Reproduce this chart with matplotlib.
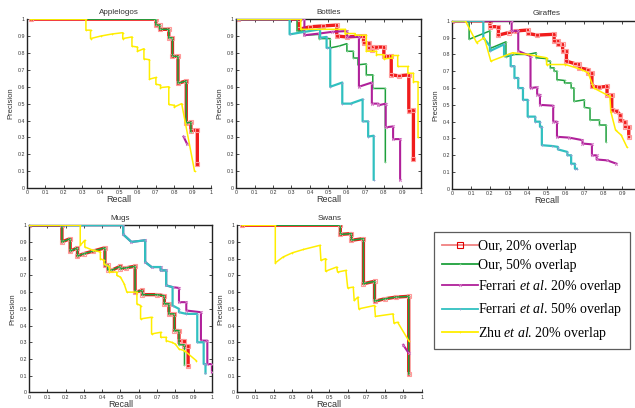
import matplotlib
matplotlib.use('Agg')
from matplotlib import pyplot as plt

plt.rcParams['font.family'] = ['Liberation Sans', 'DejaVu Sans']
plt.rcParams['mathtext.fontset'] = 'custom'
plt.rcParams['mathtext.rm'] = 'Liberation Serif'
plt.rcParams['mathtext.it'] = 'Liberation Serif:italic'

# (recall, precision) vertices
apple_our20 = [(0.02, 1), (0.70, 1), (0.70, 0.965), (0.72, 0.965), (0.72, 0.94), (0.77, 0.94),
               (0.77, 0.89), (0.79, 0.89), (0.79, 0.78), (0.82, 0.78), (0.82, 0.62), (0.865, 0.635),
               (0.865, 0.385), (0.89, 0.39), (0.89, 0.34), (0.925, 0.345), (0.925, 0.14)]
apple_our50 = [(0.02, 1), (0.70, 1), (0.70, 0.965), (0.72, 0.965), (0.72, 0.94), (0.77, 0.94),
               (0.77, 0.89), (0.79, 0.89), (0.79, 0.78), (0.82, 0.78), (0.82, 0.62), (0.865, 0.635),
               (0.865, 0.385), (0.89, 0.39), (0.89, 0.335)]
apple_fer20 = [(0.85, 0.305), (0.87, 0.26)]
apple_fer50 = []
apple_zhu20 = [(0.02, 1), (0.32, 1), (0.32, 0.935), (0.345, 0.935), (0.345, 0.885), (0.40, 0.9),
               (0.46, 0.912), (0.52, 0.92), (0.52, 0.885), (0.57, 0.895), (0.57, 0.84), (0.60, 0.835),
               (0.60, 0.81), (0.635, 0.825), (0.635, 0.765), (0.665, 0.76), (0.665, 0.645), (0.70, 0.655),
               (0.70, 0.615), (0.725, 0.61), (0.725, 0.595), (0.77, 0.6), (0.77, 0.495), (0.80, 0.49),
               (0.80, 0.48), (0.84, 0.5), (0.91, 0.1)]

bottle_our20 = [(0.01, 1), (0.34, 1), (0.34, 0.94), (0.40, 0.955), (0.47, 0.96), (0.545, 0.965),
                (0.545, 0.9), (0.60, 0.895), (0.69, 0.9), (0.69, 0.86), (0.72, 0.86), (0.72, 0.83),
                (0.735, 0.835), (0.735, 0.82), (0.76, 0.835), (0.80, 0.835), (0.80, 0.78), (0.84, 0.78),
                (0.84, 0.67), (0.88, 0.665), (0.935, 0.67), (0.935, 0.455), (0.96, 0.46), (0.96, 0.17)]
bottle_our50 = [(0.01, 1), (0.33, 1), (0.33, 0.93), (0.37, 0.93), (0.37, 0.905), (0.45, 0.91),
                (0.45, 0.885), (0.51, 0.885), (0.51, 0.83), (0.555, 0.84), (0.60, 0.855), (0.60, 0.81),
                (0.635, 0.81), (0.635, 0.77), (0.66, 0.77), (0.66, 0.73), (0.705, 0.735), (0.705, 0.67),
                (0.74, 0.67), (0.74, 0.59), (0.808, 0.59), (0.808, 0.155)]
bottle_fer20 = [(0.01, 1), (0.37, 1), (0.37, 0.905), (0.45, 0.915), (0.52, 0.925), (0.60, 0.93),
                (0.60, 0.895), (0.665, 0.895), (0.665, 0.60), (0.735, 0.625), (0.735, 0.50), (0.77, 0.5),
                (0.77, 0.49), (0.81, 0.5), (0.81, 0.36), (0.85, 0.365), (0.85, 0.29), (0.888, 0.29),
                (0.888, 0.05)]
bottle_fer50 = [(0.01, 1), (0.29, 1), (0.29, 0.91), (0.37, 0.925), (0.455, 0.94), (0.455, 0.89),
                (0.49, 0.895), (0.49, 0.83), (0.51, 0.83), (0.51, 0.6), (0.575, 0.625), (0.575, 0.5),
                (0.62, 0.5), (0.685, 0.525), (0.685, 0.395), (0.715, 0.395), (0.715, 0.305),
                (0.745, 0.31), (0.745, 0.05)]
bottle_zhu20 = [(0.01, 1), (0.35, 1), (0.35, 0.94), (0.59, 0.94), (0.59, 0.915), (0.645, 0.915),
                (0.645, 0.905), (0.705, 0.905), (0.705, 0.81), (0.76, 0.81), (0.76, 0.79), (0.80, 0.79),
                (0.80, 0.765), (0.845, 0.77), (0.845, 0.785), (0.875, 0.785), (0.875, 0.72), (0.93, 0.72),
                (0.93, 0.68), (0.96, 0.68), (0.96, 0.63), (0.985, 0.63), (0.985, 0.3)]

giraffe_our20 = [(0, 1), (0.2, 1), (0.2, 0.965), (0.245, 0.965), (0.245, 0.915), (0.30, 0.93),
                 (0.34, 0.94), (0.40, 0.945), (0.40, 0.925), (0.45, 0.915), (0.54, 0.92), (0.54, 0.88),
                 (0.56, 0.88), (0.56, 0.86), (0.585, 0.86), (0.585, 0.82), (0.605, 0.82), (0.605, 0.76),
                 (0.65, 0.745), (0.67, 0.745), (0.67, 0.72), (0.72, 0.71), (0.72, 0.69), (0.74, 0.69),
                 (0.74, 0.61), (0.78, 0.605), (0.82, 0.61), (0.82, 0.56), (0.845, 0.56), (0.845, 0.47),
                 (0.87, 0.465), (0.89, 0.44), (0.89, 0.41), (0.915, 0.4), (0.915, 0.37), (0.935, 0.37),
                 (0.935, 0.31)]
giraffe_our50 = [(0, 1), (0.09, 1), (0.09, 0.89), (0.20, 0.94), (0.20, 0.835), (0.285, 0.875),
                 (0.285, 0.785), (0.33, 0.80), (0.40, 0.80), (0.445, 0.81), (0.445, 0.78), (0.50, 0.775),
                 (0.50, 0.76), (0.52, 0.76), (0.52, 0.72), (0.54, 0.72), (0.54, 0.70), (0.555, 0.70),
                 (0.555, 0.65), (0.595, 0.645), (0.595, 0.63), (0.63, 0.63), (0.63, 0.6), (0.645, 0.6),
                 (0.645, 0.52), (0.70, 0.53), (0.70, 0.485), (0.73, 0.48), (0.73, 0.41), (0.78, 0.41),
                 (0.78, 0.38), (0.815, 0.38), (0.815, 0.28)]
giraffe_fer20 = [(0, 1), (0.315, 1), (0.315, 0.94), (0.35, 0.94), (0.35, 0.82), (0.415, 0.79),
                 (0.415, 0.6), (0.45, 0.605), (0.45, 0.56), (0.465, 0.56), (0.465, 0.5), (0.535, 0.495),
                 (0.535, 0.40), (0.555, 0.40), (0.555, 0.31), (0.62, 0.305), (0.69, 0.29), (0.69, 0.27),
                 (0.74, 0.265), (0.74, 0.2), (0.765, 0.2), (0.765, 0.175), (0.82, 0.17), (0.87, 0.15)]
giraffe_fer50 = [(0, 1), (0.165, 1), (0.165, 0.9), (0.2, 0.85), (0.2, 0.82), (0.275, 0.86),
                 (0.275, 0.79), (0.31, 0.80), (0.31, 0.73), (0.33, 0.73), (0.33, 0.66), (0.35, 0.66),
                 (0.35, 0.6), (0.375, 0.6), (0.375, 0.53), (0.40, 0.53), (0.40, 0.43), (0.44, 0.43),
                 (0.44, 0.4), (0.465, 0.4), (0.465, 0.37), (0.475, 0.37), (0.475, 0.26), (0.53, 0.255),
                 (0.56, 0.25), (0.56, 0.235), (0.61, 0.22), (0.61, 0.2), (0.63, 0.2), (0.63, 0.15),
                 (0.65, 0.15), (0.65, 0.12), (0.66, 0.12)]
giraffe_zhu20 = [(0, 1), (0.07, 1), (0.13, 0.87), (0.17, 0.9), (0.205, 0.76), (0.32, 0.81),
                 (0.40, 0.8), (0.50, 0.78), (0.50, 0.74), (0.60, 0.74), (0.685, 0.71), (0.72, 0.69),
                 (0.75, 0.6), (0.835, 0.55), (0.84, 0.46), (0.865, 0.35), (0.895, 0.32), (0.925, 0.25)]

mug_our20 = [(0, 1), (0.18, 1), (0.18, 0.9), (0.225, 0.92), (0.225, 0.845), (0.265, 0.865),
             (0.265, 0.815), (0.30, 0.83), (0.35, 0.845), (0.415, 0.865), (0.415, 0.76), (0.43, 0.76),
             (0.43, 0.735), (0.45, 0.73), (0.50, 0.755), (0.50, 0.74), (0.53, 0.745), (0.58, 0.755),
             (0.58, 0.6), (0.62, 0.61), (0.62, 0.585), (0.70, 0.585), (0.74, 0.578), (0.74, 0.53),
             (0.765, 0.53), (0.765, 0.47), (0.795, 0.47), (0.795, 0.37), (0.82, 0.37), (0.82, 0.31),
             (0.85, 0.31), (0.85, 0.28), (0.87, 0.28), (0.87, 0.16)]
mug_our50 = [(0, 1), (0.18, 1), (0.18, 0.9), (0.225, 0.92), (0.225, 0.845), (0.265, 0.865),
             (0.265, 0.815), (0.30, 0.83), (0.35, 0.845), (0.415, 0.865), (0.415, 0.76), (0.43, 0.76),
             (0.43, 0.735), (0.45, 0.73), (0.50, 0.755), (0.50, 0.74), (0.53, 0.745), (0.58, 0.755),
             (0.58, 0.6), (0.62, 0.61), (0.62, 0.585), (0.70, 0.585), (0.74, 0.578), (0.74, 0.53),
             (0.765, 0.53), (0.765, 0.47), (0.795, 0.47), (0.795, 0.37), (0.82, 0.37), (0.82, 0.285),
             (0.85, 0.285), (0.85, 0.165)]
mug_fer20 = [(0, 1), (0.515, 1), (0.515, 0.945), (0.56, 0.9), (0.635, 0.91), (0.635, 0.78),
             (0.67, 0.75), (0.72, 0.75), (0.72, 0.73), (0.75, 0.73), (0.75, 0.64), (0.785, 0.63),
             (0.82, 0.625), (0.82, 0.54), (0.86, 0.54), (0.86, 0.49), (0.94, 0.48), (0.94, 0.31),
             (0.975, 0.31), (0.975, 0.17), (1.0, 0.17), (1.0, 0.12)]
mug_fer50 = [(0, 1), (0.515, 1), (0.515, 0.945), (0.56, 0.9), (0.635, 0.91), (0.635, 0.78),
             (0.67, 0.75), (0.72, 0.75), (0.72, 0.73), (0.75, 0.73), (0.75, 0.64), (0.785, 0.63),
             (0.785, 0.52), (0.82, 0.5), (0.82, 0.48), (0.86, 0.47), (0.92, 0.47), (0.92, 0.3),
             (0.955, 0.3), (0.955, 0.17), (0.965, 0.17), (0.965, 0.115)]
mug_zhu20 = [(0, 1), (0.28, 1), (0.28, 0.88), (0.305, 0.91), (0.305, 0.87), (0.35, 0.85),
             (0.39, 0.84), (0.39, 0.80), (0.41, 0.79), (0.41, 0.77), (0.44, 0.75), (0.44, 0.72),
             (0.48, 0.72), (0.48, 0.70), (0.50, 0.69), (0.52, 0.65), (0.535, 0.6), (0.59, 0.6),
             (0.59, 0.53), (0.61, 0.52), (0.61, 0.44), (0.67, 0.45), (0.67, 0.35), (0.72, 0.36),
             (0.72, 0.33), (0.75, 0.33), (0.75, 0.31), (0.78, 0.3), (0.80, 0.29), (0.82, 0.26),
             (0.85, 0.25), (0.915, 0.19)]

swan_our20 = [(0.03, 1), (0.56, 1), (0.56, 0.945), (0.62, 0.95), (0.62, 0.91), (0.685, 0.92),
              (0.685, 0.65), (0.745, 0.665), (0.745, 0.545), (0.80, 0.56), (0.86, 0.57), (0.93, 0.575),
              (0.93, 0.11)]
swan_our50 = [(0.03, 1), (0.56, 1), (0.56, 0.945), (0.62, 0.95), (0.62, 0.91), (0.685, 0.92),
              (0.685, 0.65), (0.745, 0.665), (0.745, 0.545), (0.80, 0.56), (0.86, 0.57), (0.93, 0.575),
              (0.93, 0.11)]
swan_fer20 = [(0.90, 0.285), (0.93, 0.235)]
swan_fer50 = []
swan_zhu20 = [(0.03, 1), (0.208, 1), (0.208, 0.775), (0.25, 0.81), (0.30, 0.835), (0.36, 0.855),
              (0.45, 0.88), (0.455, 0.79), (0.48, 0.8), (0.48, 0.725), (0.54, 0.75), (0.545, 0.72),
              (0.59, 0.73), (0.60, 0.625), (0.63, 0.63), (0.635, 0.55), (0.655, 0.57), (0.66, 0.5),
              (0.745, 0.52), (0.75, 0.455), (0.845, 0.47), (0.85, 0.415), (0.87, 0.42), (0.93, 0.31)]

titles = ['Applelogos', 'Bottles', 'Giraffes', 'Mugs', 'Swans']
curves = [
    [apple_our20, apple_our50, apple_fer20, apple_fer50, apple_zhu20],
    [bottle_our20, bottle_our50, bottle_fer20, bottle_fer50, bottle_zhu20],
    [giraffe_our20, giraffe_our50, giraffe_fer20, giraffe_fer50, giraffe_zhu20],
    [mug_our20, mug_our50, mug_fer20, mug_fer50, mug_zhu20],
    [swan_our20, swan_our50, swan_fer20, swan_fer50, swan_zhu20],
]
legend_labels = ['Our, 20% overlap', 'Our, 50% overlap',
                 'Ferrari $\\it{et\\ al}$. 20% overlap',
                 'Ferrari $\\it{et\\ al}$. 50% overlap',
                 'Zhu $\\it{et\\ al}$. 20% overlap']

# line styles for the five methods
styles = [
    dict(color='#f01c1c', lw=2.4, marker='s', ms=2.2, mfc='none', mec='#ff9a9a', mew=0.8),
    dict(color='#1ea03c', lw=1.1, marker='+', ms=2.0, mec='#7fd08f', mew=0.5),
    dict(color='#b0209a', lw=1.5, marker='x', ms=2.0, mec='#d67fc8', mew=0.6),
    dict(color='#30c0c0', lw=1.6, marker='+', ms=2.0, mec='#8fa0d0', mew=0.6),
    dict(color='#ffee00', lw=1.1, marker='+', ms=1.5, mec='#ffee00', mew=0.5),
]
zorders = [2, 3, 4, 5, 6]

# axes rectangles in figure fraction (left, bottom, width, height)
rects = [
    [0.0425, 0.539, 0.290, 0.414],
    [0.3717, 0.539, 0.291, 0.414],
    [0.712, 0.537, 0.2975, 0.412],
    [0.0457, 0.038, 0.288, 0.41],
    [0.373, 0.038, 0.291, 0.41],
]
boxed = [False, True, True, True, False]
tick_vals = [i / 10 for i in range(11)]
tick_text = ['0'] + ['%.1f' % t for t in tick_vals[1:-1]] + ['1']

fig = plt.figure(figsize=(6.35, 4.08), dpi=100)

handles = None
for k in range(5):
    ax = fig.add_axes(rects[k])
    lines = []
    for j in range(5):
        pts = curves[k][j]
        xs = [p[0] for p in pts]
        ys = [p[1] for p in pts]
        ln, = ax.plot(xs, ys, zorder=zorders[j], **styles[j])
        lines.append(ln)
    if k == 1:
        handles = lines
    ax.set_xlim(0, 1)
    ax.set_ylim(0, 1)
    ax.set_xticks(tick_vals)
    # the giraffes panel runs off the right edge, its last label is not shown
    if k == 2:
        ax.set_xticklabels(tick_text[:-1] + [''])
    else:
        ax.set_xticklabels(tick_text)
    ax.set_yticks(tick_vals)
    ax.set_yticklabels(tick_text)
    ax.tick_params(direction='in', labelsize=3.8, length=2, width=0.5, pad=1.5,
                   top=boxed[k], right=boxed[k], labelcolor='#333333')
    for s in ['left', 'bottom', 'top', 'right']:
        ax.spines[s].set_linewidth(1.0)
        ax.spines[s].set_color('#222222')
    if not boxed[k]:
        ax.spines['top'].set_visible(False)
        ax.spines['right'].set_visible(False)
    ax.set_title(titles[k], fontsize=5.8, pad=4, color='#333333')
    ax.set_xlabel('Recall', fontsize=6.5, labelpad=0, color='#333333')
    ax.set_ylabel('Precision', fontsize=5.5, labelpad=2, color='#333333')

leg = fig.legend(handles, legend_labels, loc='upper left',
                 bbox_to_anchor=(434 / 635, 1 - 232 / 408),
                 prop={'family': 'Liberation Serif', 'size': 10},
                 frameon=True, fancybox=False, edgecolor='#333333',
                 handlelength=2.6, handletextpad=0.05, labelspacing=0.45,
                 borderpad=0.55, numpoints=1, borderaxespad=0)
leg.get_frame().set_linewidth(0.9)
for lh in leg.get_lines():
    lh.set_linewidth(1.3)
leg.get_lines()[0].set_color('#f08080')
leg.get_lines()[0].set_markeredgecolor('#e00000')
leg.get_lines()[0].set_markersize(5)

plt.savefig('out.png', dpi=100)
